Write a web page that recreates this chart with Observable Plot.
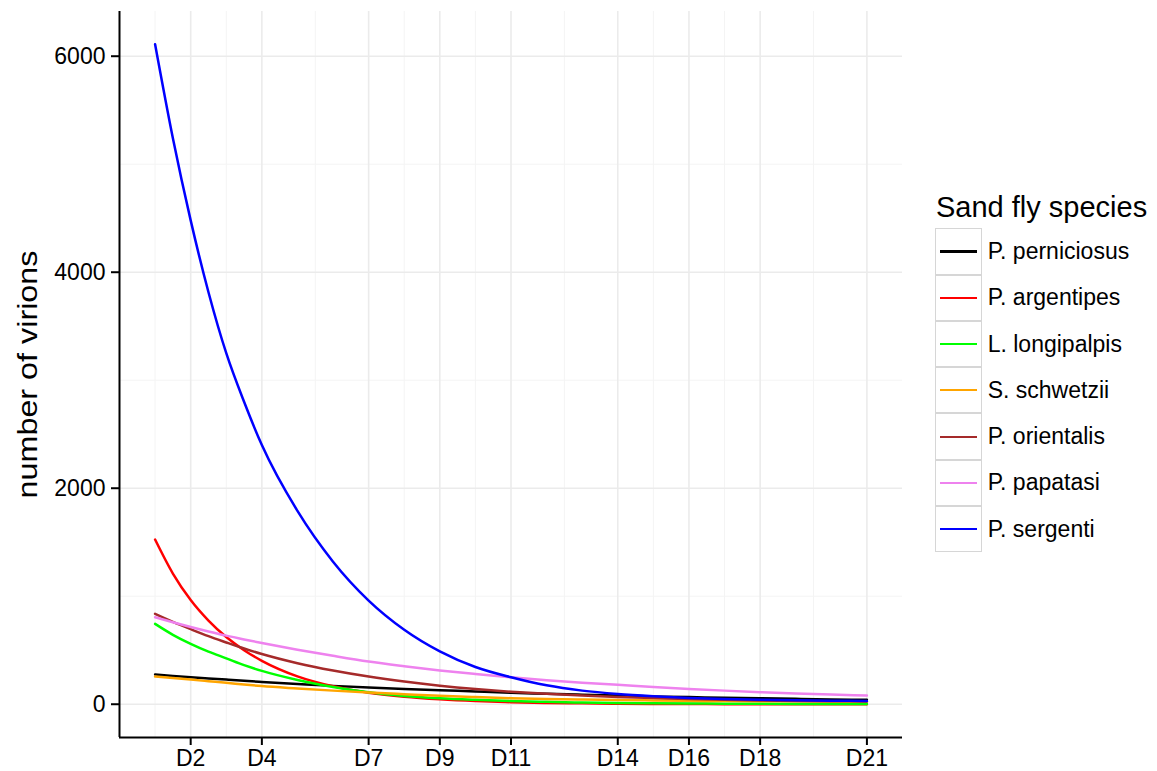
<!DOCTYPE html>
<html>
<head>
<meta charset="utf-8">
<script src="https://cdn.jsdelivr.net/npm/d3@7"></script>
<script src="https://cdn.jsdelivr.net/npm/@observablehq/plot@0.6"></script>
<style>
  html, body { margin: 0; padding: 0; background: #fff; }
  #wrap { position: relative; width: 1157px; height: 771px; font-family: "Liberation Sans", Arial, sans-serif; }
  #legend { position: absolute; left: 935px; top: 190px; color: #000; }
  #legend .title { font-size: 29px; line-height: 34px; height: 38.3px; white-space: nowrap; margin-left: 1px; }
  #legend .row { display: flex; align-items: center; height: 46.3px; }
  #legend .key { box-sizing: border-box; width: 46.7px; height: 46.3px; border: 1.5px solid #d6d6d6; position: relative; background: #fff; }
  #legend .key span { position: absolute; left: 4px; right: 4px; top: 50%; height: 2.2px; margin-top: -1.1px; }
  #legend .lab { font-size: 23px; margin-left: 6px; white-space: nowrap; }
</style>
</head>
<body>
<div id="wrap">
  <div id="chart"></div>
  <div id="legend"></div>
</div>
<script>
// ---- data ----
const days = [1, 1.5, 2, 2.5, 3, 3.5, 4, 5, 6, 7, 8, 9, 10, 11, 12, 13, 14, 15, 16, 17, 18, 19, 20, 21];
const species = ["P. perniciosus", "P. argentipes", "L. longipalpis", "S. schwetzii", "P. orientalis", "P. papatasi", "P. sergenti"];
const colors = ["#000000", "#FF0000", "#00FF00", "#FFA500", "#A52A2A", "#EE82EE", "#0000FF"];

const perniciosus = [275, 262, 250, 239, 228, 217, 207, 188, 170, 155, 142, 130, 118, 106, 97, 88, 80, 72, 66, 60, 55, 50, 45, 41];
const argentipes  = [1525, 1210, 965, 775, 622, 500, 402, 258, 166, 107, 69, 45, 29, 19, 12, 8, 5, 3, 2, 1, 1, 0, 0, 0];
const longipalpis = [744, 643, 559, 487, 425, 362, 309, 225, 160, 110, 76, 55, 41, 30, 22, 16, 12, 9, 7, 5, 4, 3, 2, 2];
const schwetzii   = [256, 242, 228, 213, 198, 183, 168, 146, 126, 108, 93, 78, 66, 56, 49, 43, 39, 35, 32, 30, 28, 27, 26, 25];
const orientalis  = [837, 763, 695, 630, 572, 516, 465, 380, 312, 256, 210, 172, 141, 116, 96, 80, 67, 57, 48, 41, 35, 31, 28, 25];
const papatasi    = [806, 759, 715, 674, 635, 600, 567, 505, 448, 395, 352, 313, 280, 250, 223, 200, 180, 160, 142, 126, 112, 100, 90, 81];
const sergenti    = [6110, 5240, 4480, 3815, 3250, 2800, 2400, 1790, 1320, 960, 690, 490, 345, 250, 175, 126, 95, 74, 58, 48, 41, 36, 33, 30];

const seriesValues = [perniciosus, argentipes, longipalpis, schwetzii, orientalis, papatasi, sergenti];

const xTickDays = [2, 4, 7, 9, 11, 14, 16, 18, 21];
const xTickLabels = ["D2", "D4", "D7", "D9", "D11", "D14", "D16", "D18", "D21"];
const xMinorDays = [1, 3, 5.5, 8, 10, 12.5, 15, 17, 19.5];
const yTicks = [0, 2000, 4000, 6000];
const yMinor = [1000, 3000, 5000];
const xDomain = [0, 22];
const yDomain = [-308, 6414];

const yTitle = "number of virions";
const legendTitle = "Sand fly species";

// tidy table
const rows = [];
species.forEach((s, i) => days.forEach((d, j) => rows.push({species: s, day: d, value: seriesValues[i][j]})));

const grid = "#ebebeb";
const gridMinor = "#f4f4f4";

const chart = Plot.plot({
  width: 1157,
  height: 771,
  marginLeft: 119,
  marginRight: 255,
  marginTop: 11,
  marginBottom: 34,
  style: {fontFamily: "'Liberation Sans', Arial, sans-serif", background: "#fff", color: "#000"},
  x: {domain: xDomain},
  y: {domain: yDomain},
  color: {domain: species, range: colors},
  marks: [
    Plot.ruleX(xMinorDays, {stroke: gridMinor, strokeWidth: 1}),
    Plot.ruleY(yMinor, {stroke: gridMinor, strokeWidth: 1}),
    Plot.ruleX(xTickDays, {stroke: grid, strokeWidth: 1.6}),
    Plot.ruleY(yTicks, {stroke: grid, strokeWidth: 1.6}),
    Plot.line(rows, {x: "day", y: "value", z: "species", stroke: "species", strokeWidth: 2.5, curve: "monotone-x"}),
    Plot.ruleX([xDomain[0]], {stroke: "#000", strokeWidth: 2}),
    Plot.ruleY([yDomain[0]], {stroke: "#000", strokeWidth: 2}),
    Plot.axisY({ticks: yTicks, tickFormat: d => String(d), tickSize: 8, tickPadding: 6, fontSize: 23, strokeWidth: 2, label: null}),
    Plot.axisX({ticks: xTickDays, tickFormat: d => xTickLabels[xTickDays.indexOf(d)], tickSize: 8, tickPadding: 4, fontSize: 23, strokeWidth: 2, label: null}),
    Plot.text([yTitle], {frameAnchor: "left", dx: -91, rotate: -90, fontSize: 28, text: d => d, fill: "#000"})
  ]
});
document.getElementById("chart").appendChild(chart);

// stretch the y-axis title to its measured length, keeping it centred on the panel
const titleLength = 248;
chart.querySelectorAll("text").forEach(t => {
  if (t.textContent === yTitle) {
    t.setAttribute("text-anchor", "start");
    t.setAttribute("x", -titleLength / 2);
    t.setAttribute("textLength", titleLength);
    t.setAttribute("lengthAdjust", "spacingAndGlyphs");
  }
});

// legend
const legend = document.getElementById("legend");
const title = document.createElement("div");
title.className = "title";
title.textContent = legendTitle;
legend.appendChild(title);
species.forEach((s, i) => {
  const row = document.createElement("div");
  row.className = "row";
  const key = document.createElement("div");
  key.className = "key";
  const ln = document.createElement("span");
  ln.style.background = colors[i];
  key.appendChild(ln);
  const lab = document.createElement("div");
  lab.className = "lab";
  lab.textContent = s;
  row.appendChild(key);
  row.appendChild(lab);
  legend.appendChild(row);
});
</script>
</body>
</html>
